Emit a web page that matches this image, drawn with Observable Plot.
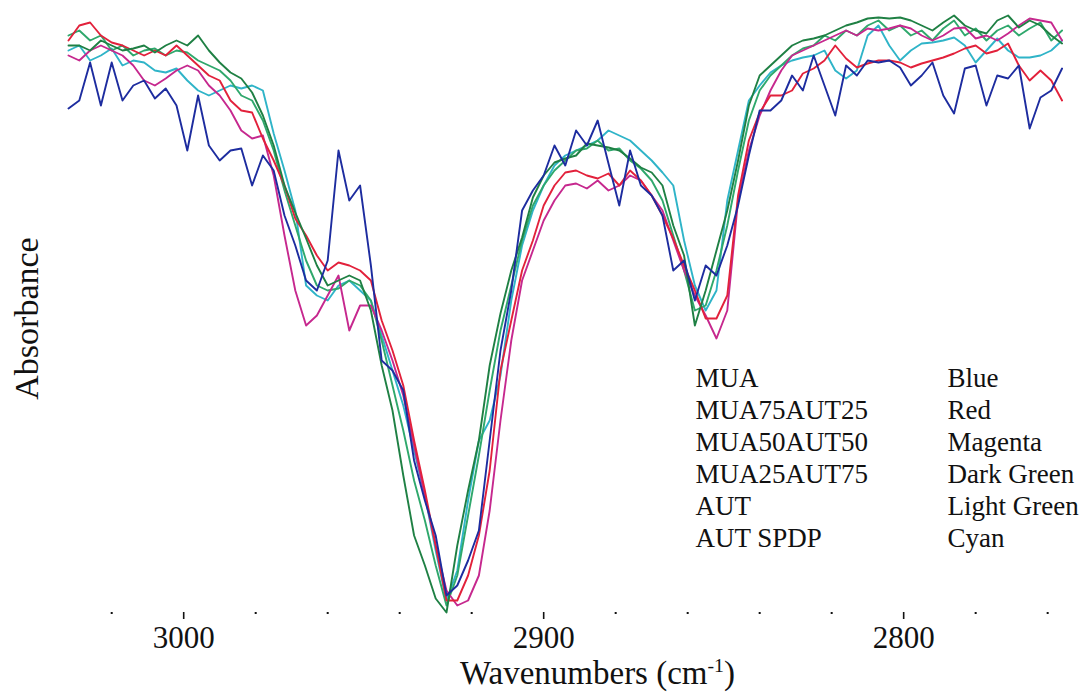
<!DOCTYPE html>
<html>
<head>
<meta charset="utf-8">
<script src="https://cdn.jsdelivr.net/npm/d3@7"></script>
<script src="https://cdn.jsdelivr.net/npm/@observablehq/plot@0.6"></script>
<style>
  html, body { margin: 0; padding: 0; background: #fff; }
  #chart svg { display: block; }
</style>
</head>
<body>
<div id="chart"></div>
<script>
// Wavenumber sampling positions (cm-1), read along the x axis
const wavenumbers = [3032,3029,3026,3023,3020,3017,3014,3011,3008,3005,3002,2999,2996,2993,2990,2987,2984,2981,2978,2975,2972,2969,2966,2963,2960,2957,2954,2951,2948,2945,2942,2939,2936,2933,2930,2927,2924,2921,2918,2915,2912,2909,2906,2903,2900,2897,2894,2891,2888,2885,2882,2879,2876,2873,2870,2867,2864,2861,2858,2855,2852,2849,2846,2843,2840,2837,2834,2831,2828,2825,2822,2819,2816,2813,2810,2807,2804,2801,2798,2795,2792,2789,2786,2783,2780,2777,2774,2771,2768,2765,2762,2759,2756];

// Absorbance (arbitrary units, larger = stronger band, drawn downward)
const mua = [18.6,17.0,9.4,18.0,9.4,17.0,14.0,13.0,16.6,14.6,18.0,27.0,16.0,26.0,29.0,27.0,26.6,34.0,28.0,31.0,40.0,46.0,53.0,55.0,49.0,27.0,37.0,34.0,50.0,69.0,71.0,75.0,89.0,97.0,104.0,116.0,114.0,109.0,103.0,85.0,67.0,55.0,39.0,35.0,32.0,26.0,30.0,23.0,26.0,21.0,29.6,38.0,27.0,34.0,36.0,40.0,51.0,49.0,57.0,50.0,52.0,46.0,38.0,28.0,19.0,19.0,17.0,12.0,15.0,8.0,14.0,20.0,10.0,12.0,9.0,9.4,9.0,10.4,14.0,12.0,9.4,16.0,19.6,10.6,10.0,18.0,12.0,12.6,10.0,22.6,16.4,15.0,10.6];
const mua75aut25 = [5.0,2.0,1.4,4.0,5.4,6.0,7.0,8.0,7.0,8.0,6.0,8.0,10.0,12.0,13.0,17.0,19.0,19.4,24.6,29.0,34.0,40.6,44.0,48.0,51.0,49.4,50.0,51.0,53.0,61.0,67.0,74.0,85.0,95.0,106.0,117.0,117.0,112.0,104.0,91.0,71.0,61.0,51.0,45.0,38.0,34.0,31.4,31.0,32.0,32.6,31.6,34.0,31.0,33.0,36.0,40.0,44.6,50.0,55.0,60.6,60.6,56.0,36.0,25.0,19.4,16.0,16.0,15.0,11.6,10.6,9.0,6.0,8.6,10.4,9.6,9.0,9.0,9.4,10.4,9.6,9.0,8.4,7.6,6.6,6.0,7.6,7.0,5.6,10.0,13.0,11.0,13.0,17.0];
const mua50aut50 = [8.0,9.0,7.0,6.0,7.0,8.0,10.0,13.0,14.0,12.6,11.0,10.0,11.0,14.0,16.0,19.0,23.0,24.6,24.0,32.0,44.0,55.0,62.0,60.0,56.0,52.0,63.0,58.0,58.0,63.0,69.0,76.0,86.0,96.0,106.0,115.0,118.0,117.0,112.0,99.0,81.0,65.0,53.0,47.0,41.0,37.0,34.0,33.6,34.6,33.0,35.0,34.0,32.0,33.0,36.0,39.0,45.0,51.0,56.0,60.0,64.6,59.0,37.0,27.0,20.0,15.0,11.0,8.0,7.0,6.0,5.0,4.0,3.0,4.0,2.6,3.0,2.6,2.0,2.6,4.0,5.0,4.0,2.6,2.4,4.6,4.0,5.0,3.6,2.0,0.6,1.0,1.4,5.0];
const mua25aut75 = [6.0,6.0,7.0,5.0,6.0,7.0,6.6,6.0,7.4,6.0,5.0,6.0,4.0,7.0,9.4,11.4,12.6,15.4,20.0,26.0,34.0,39.4,44.6,50.0,54.0,53.0,52.0,53.0,59.0,70.0,79.0,92.0,104.0,110.0,116.6,119.4,106.0,95.0,85.0,70.0,59.6,51.0,44.4,36.4,32.0,29.4,28.6,28.0,25.6,26.0,26.4,27.0,28.6,30.4,31.4,34.0,42.0,48.0,62.0,55.0,47.0,39.0,29.0,18.0,12.0,10.0,8.0,6.0,5.0,4.6,4.0,3.0,2.0,1.4,0.6,0.4,0.6,0.4,1.0,2.0,3.0,1.4,0.0,2.0,3.0,3.6,1.0,0.0,2.4,1.0,2.0,4.0,5.6];
const aut = [4.0,3.0,5.0,4.0,7.0,6.0,8.0,7.0,6.6,8.0,7.0,7.4,9.0,10.0,11.0,13.0,16.0,17.0,21.0,27.0,35.0,42.0,49.0,54.0,55.0,54.6,53.0,54.0,57.0,65.0,74.0,83.0,93.0,101.0,110.0,118.0,112.0,100.0,88.0,75.0,63.0,54.0,45.0,38.0,34.0,31.0,29.0,27.0,26.6,25.0,27.0,26.6,29.0,30.6,33.0,37.0,44.0,51.0,59.0,58.0,51.0,42.0,31.0,21.0,15.0,12.0,10.0,8.0,6.6,6.0,4.0,5.0,3.0,4.0,2.0,1.0,3.0,2.0,4.0,3.0,5.0,2.6,1.0,4.0,2.6,5.0,3.0,2.0,4.0,2.6,1.4,5.0,3.0];
const autSpdp = [7.0,6.0,9.0,8.0,6.6,10.0,9.0,9.4,11.0,11.4,10.6,13.0,15.0,16.0,15.0,14.0,14.6,14.0,15.0,23.6,31.0,39.0,54.0,56.0,57.0,54.0,53.0,55.0,57.0,64.0,71.0,78.0,87.0,96.0,107.0,117.0,111.0,97.0,85.0,81.0,72.0,57.0,46.0,39.0,34.0,30.0,28.0,27.0,26.0,25.0,23.0,24.0,25.0,27.0,29.0,31.4,34.0,45.0,54.0,59.0,55.0,37.0,27.0,17.0,14.0,11.4,10.0,9.0,8.4,8.0,7.0,11.0,12.6,11.0,4.0,2.0,6.0,9.0,7.0,5.6,5.4,5.0,4.4,6.0,9.4,7.0,4.6,7.0,8.4,8.4,8.0,7.0,5.0];

const seriesNames = ["MUA", "MUA75AUT25", "MUA50AUT50", "MUA25AUT75", "AUT", "AUT SPDP"];
const colorNames = ["Blue", "Red", "Magenta", "Dark Green", "Light Green", "Cyan"];
const seriesColors = ["#1d2c9f", "#e2213b", "#c6288e", "#1f8044", "#2fa86c", "#2fb4c8"];
const majorTicks = [3000, 2900, 2800];
const minorTicks = [3020, 2980, 2960, 2940, 2920, 2880, 2860, 2840, 2820, 2780, 2760];
const xTitle = "Wavenumbers (cm-1)";
const yTitle = "Absorbance";

const seriesValues = [mua, mua75aut25, mua50aut50, mua25aut75, aut, autSpdp];
// draw MUA last (on top)
const drawOrder = [5, 4, 2, 1, 3, 0];
const rows = drawOrder.flatMap(i =>
  wavenumbers.map((w, j) => ({ series: seriesNames[i], wavenumber: w, absorbance: seriesValues[i][j] }))
);

const serif = "'Liberation Serif', 'Times New Roman', Times, serif";

const chart = Plot.plot({
  width: 1082,
  height: 692,
  marginLeft: 68,
  marginRight: 19,
  marginTop: 24,
  marginBottom: 80,
  style: { fontFamily: serif, background: "#fff", color: "#111" },
  x: { domain: [3032, 2755.6] },
  y: { domain: [0, 120], range: [15, 615], axis: null },
  color: { domain: seriesNames, range: seriesColors },
  marks: [
    Plot.axisX({ ticks: minorTicks, tickSize: 2, strokeWidth: 2, tickFormat: () => "", label: null }),
    Plot.axisX({ ticks: majorTicks, tickSize: 7, strokeWidth: 1.6, tickPadding: 6, fontSize: 31, tickFormat: d => String(d), label: null }),
    Plot.line(rows, { x: "wavenumber", y: "absorbance", z: "series", stroke: "series", strokeWidth: 1.9, strokeLinejoin: "round" }),
    Plot.text([seriesNames.join("\n")], { frameAnchor: "top-left", dx: 627, dy: 340, textAnchor: "start", lineAnchor: "top", lineHeight: 1.185, fontSize: 27, fill: "#111" }),
    Plot.text([colorNames.join("\n")], { frameAnchor: "top-left", dx: 879, dy: 340, textAnchor: "start", lineAnchor: "top", lineHeight: 1.185, fontSize: 27, fill: "#111" }),
    Plot.text([yTitle], { frameAnchor: "left", dx: -41, rotate: -90, textAnchor: "middle", lineAnchor: "middle", fontSize: 34, fill: "#111" }),
    Plot.text([xTitle], { frameAnchor: "bottom", dx: 31.5, dy: 61, textAnchor: "middle", lineAnchor: "middle", fontSize: 33, fill: "#111" })
  ]
});

document.getElementById("chart").appendChild(chart);

// render "cm-1" with a real superscript
d3.select(chart).selectAll("text").filter(function () { return this.textContent === xTitle; })
  .each(function () {
    const t = d3.select(this);
    t.text("Wavenumbers (cm");
    t.append("tspan").attr("dy", -12).attr("font-size", "0.6em").text("-1");
    t.append("tspan").attr("dy", 12).text(")");
  });
</script>
</body>
</html>
